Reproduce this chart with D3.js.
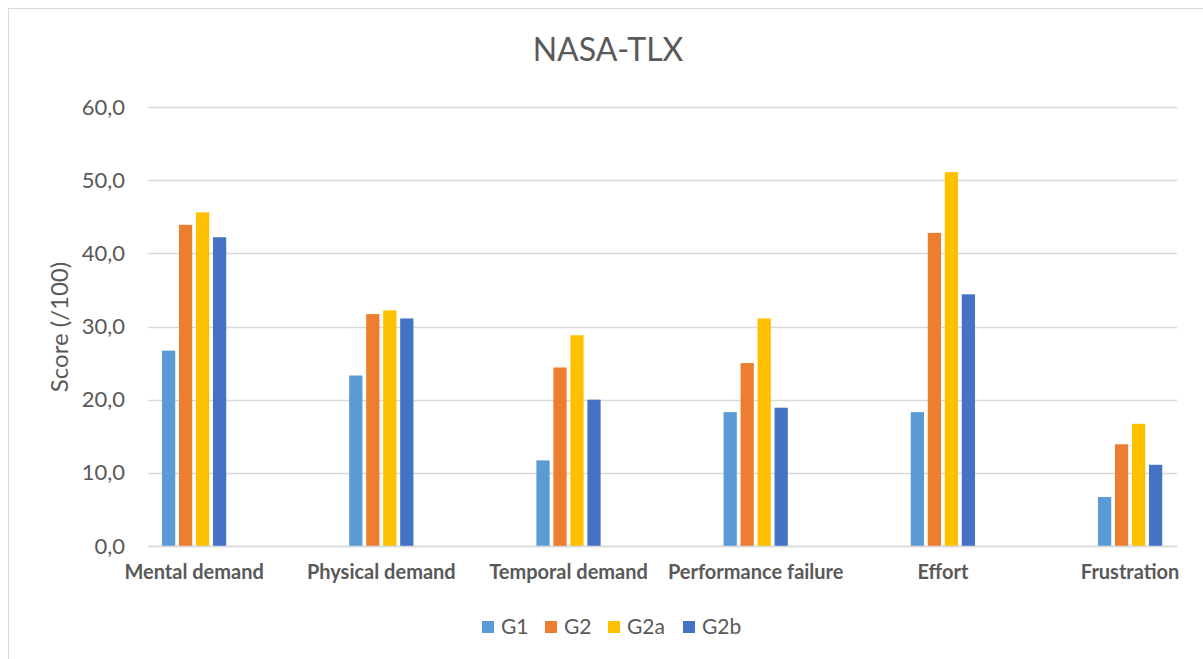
<!DOCTYPE html>
<html>
<head>
<meta charset="utf-8">
<script src="https://cdn.jsdelivr.net/npm/d3@7"></script>
<style>
  html, body { margin: 0; padding: 0; background: #fff; }
  svg { display: block; font-family: Lato, "Open Sans", sans-serif; }
</style>
</head>
<body>
<svg id="chart" width="1203" height="659"></svg>
<script>
// NASA-TLX subscale scores per group
const categories = ["Mental demand", "Physical demand", "Temporal demand", "Performance failure", "Effort", "Frustration"];
const seriesNames = ["G1", "G2", "G2a", "G2b"];
const g1  = [26.7, 23.3, 11.7, 18.3, 18.3, 6.7];
const g2  = [43.9, 31.7, 24.4, 25.0, 42.8, 13.9];
const g2a = [45.6, 32.2, 28.8, 31.1, 51.1, 16.7];
const g2b = [42.2, 31.1, 20.0, 18.9, 34.4, 11.1];
const yTicks = [0, 10, 20, 30, 40, 50, 60];
const colors = ["#5B9BD5", "#ED7D31", "#FFC000", "#4472C4"];

const seriesValues = [g1, g2, g2a, g2b];
const rows = categories.map((c, i) => ({
  category: c,
  values: seriesNames.map((s, j) => ({ series: s, value: seriesValues[j][i] }))
}));

const svg = d3.select("#chart");
const textColor = "#595959";

// chart frame
svg.append("rect")
  .attr("x", 8.5).attr("y", 8.5)
  .attr("width", 1300).attr("height", 700)
  .attr("fill", "#fff").attr("stroke", "#d9d9d9").attr("stroke-width", 1);

const plotLeft = 148, plotRight = 1177;
const y = d3.scaleLinear().domain([0, 60]).range([546, 107]);

// category bands, 187 px apart, centred under each group of bars
const x0 = d3.scaleBand().domain(categories).range([100.5, 100.5 + 6 * 187.2]).padding(0);
const groupWidth = 68;
const x1 = d3.scaleBand().domain(seriesNames).range([0, groupWidth]).paddingInner(0.22).paddingOuter(0.11);

// gridlines
svg.append("g")
  .selectAll("line")
  .data(yTicks)
  .join("line")
  .attr("x1", plotLeft).attr("x2", plotRight)
  .attr("y1", d => Math.round(y(d)) + 0.5).attr("y2", d => Math.round(y(d)) + 0.5)
  .attr("stroke", "#d9d9d9").attr("stroke-width", 1.5);

// y axis labels
const yAxis = d3.axisLeft(y).tickValues(yTicks).tickSize(0).tickPadding(0)
  .tickFormat(d => d3.format(".1f")(d).replace(".", ","));
const yG = svg.append("g").attr("transform", "translate(125,0)").call(yAxis);
yG.select(".domain").remove();
yG.selectAll("text")
  .attr("fill", textColor).attr("font-size", 22).attr("font-family", "Lato, sans-serif");

// y axis title
svg.append("text")
  .attr("transform", "translate(68,327) rotate(-90)")
  .attr("text-anchor", "middle")
  .attr("fill", textColor)
  .attr("font-size", 24)
  .text("Score (/100)");

// bars
const groups = svg.append("g").selectAll("g")
  .data(rows)
  .join("g")
  .attr("transform", d => `translate(${x0(d.category) + (x0.bandwidth() - groupWidth) / 2},0)`);

groups.selectAll("rect")
  .data(d => d.values)
  .join("rect")
  .attr("x", d => x1(d.series))
  .attr("width", x1.bandwidth())
  .attr("y", d => y(d.value))
  .attr("height", d => y(0) - y(d.value))
  .attr("fill", (d, i) => colors[i]);

// baseline
svg.append("line")
  .attr("x1", plotLeft).attr("x2", plotRight)
  .attr("y1", 546.5).attr("y2", 546.5)
  .attr("stroke", "#d9d9d9").attr("stroke-width", 1.5);

// category labels
const xAxis = d3.axisBottom(x0).tickSize(0).tickPadding(0);
const xG = svg.append("g").attr("transform", "translate(0,565)").call(xAxis);
xG.select(".domain").remove();
xG.selectAll("text")
  .attr("fill", textColor).attr("font-size", 20).attr("font-weight", "bold")
  .attr("font-family", "Lato, sans-serif");

// title
svg.append("text")
  .attr("x", 608).attr("y", 61)
  .attr("text-anchor", "middle")
  .attr("fill", textColor)
  .attr("font-size", 32)
  .text("NASA-TLX");

// legend
const legendX = [482, 545, 608, 683];
const legend = svg.append("g").selectAll("g")
  .data(seriesNames)
  .join("g")
  .attr("transform", (d, i) => `translate(${legendX[i]},621)`);
legend.append("rect").attr("width", 12).attr("height", 12).attr("fill", (d, i) => colors[i]);
legend.append("text")
  .attr("x", 19).attr("y", 6).attr("dy", "0.35em")
  .attr("fill", textColor).attr("font-size", 21)
  .text(d => d);
</script>
</body>
</html>
